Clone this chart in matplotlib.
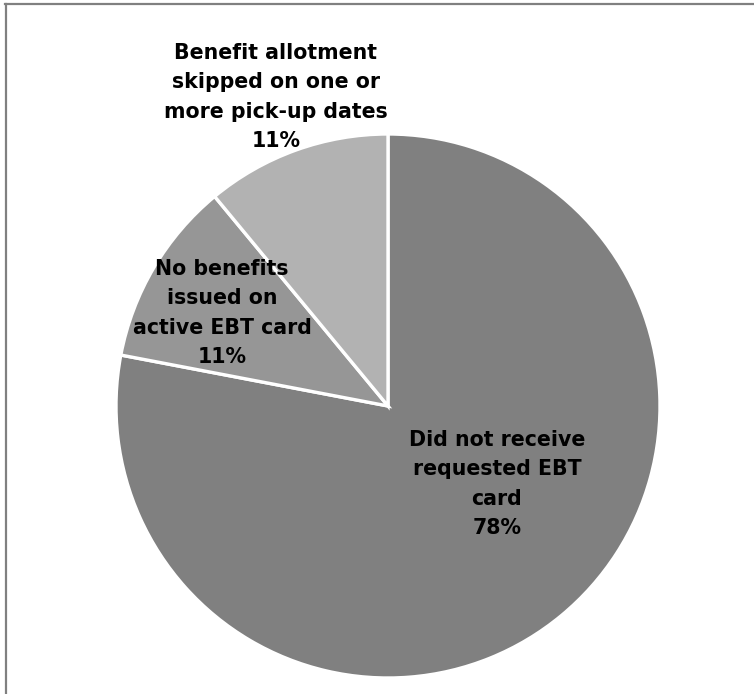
import matplotlib
matplotlib.use("Agg")
import matplotlib.pyplot as plt
from matplotlib.lines import Line2D

# Slice data (clockwise from 12 o'clock)
labels = ["Did not receive\nrequested EBT\ncard",
          "No benefits\nissued on\nactive EBT card",
          "Benefit allotment\nskipped on one or\nmore pick-up dates"]
shares = [78, 11, 11]
colors = ["#808080", "#969696", "#b2b2b2"]

# label anchor points in pixel space (x, y from top)
label_pos = [(497, 484), (222, 313), (276, 97)]

W, H = 754, 694
fig = plt.figure(figsize=(W / 100, H / 100), dpi=100)
ax = fig.add_axes([0, 0, 1, 1])
ax.set_xlim(0, W)
ax.set_ylim(0, H)
ax.set_aspect("equal")
ax.axis("off")

ax.pie(shares, colors=colors, startangle=90, counterclock=False,
       center=(388, H - 406), radius=272,
       wedgeprops=dict(edgecolor="white", linewidth=2.4))
ax.set_xlim(0, W)
ax.set_ylim(0, H)

for lab, val, (x, y) in zip(labels, shares, label_pos):
    ax.text(x, H - y, f"{lab}\n{val}%", ha="center", va="center",
            fontsize=14.8, fontweight="bold", family="DejaVu Sans",
            linespacing=1.6, color="black")

# chart frame (top and left edges visible)
fig.add_artist(Line2D([5 / W, 1], [1 - 4 / H, 1 - 4 / H], color="#808080",
                      lw=1.6, transform=fig.transFigure))
fig.add_artist(Line2D([6 / W, 6 / W], [0, 1 - 4 / H], color="#808080",
                      lw=1.6, transform=fig.transFigure))

fig.savefig("out.png", dpi=100)
